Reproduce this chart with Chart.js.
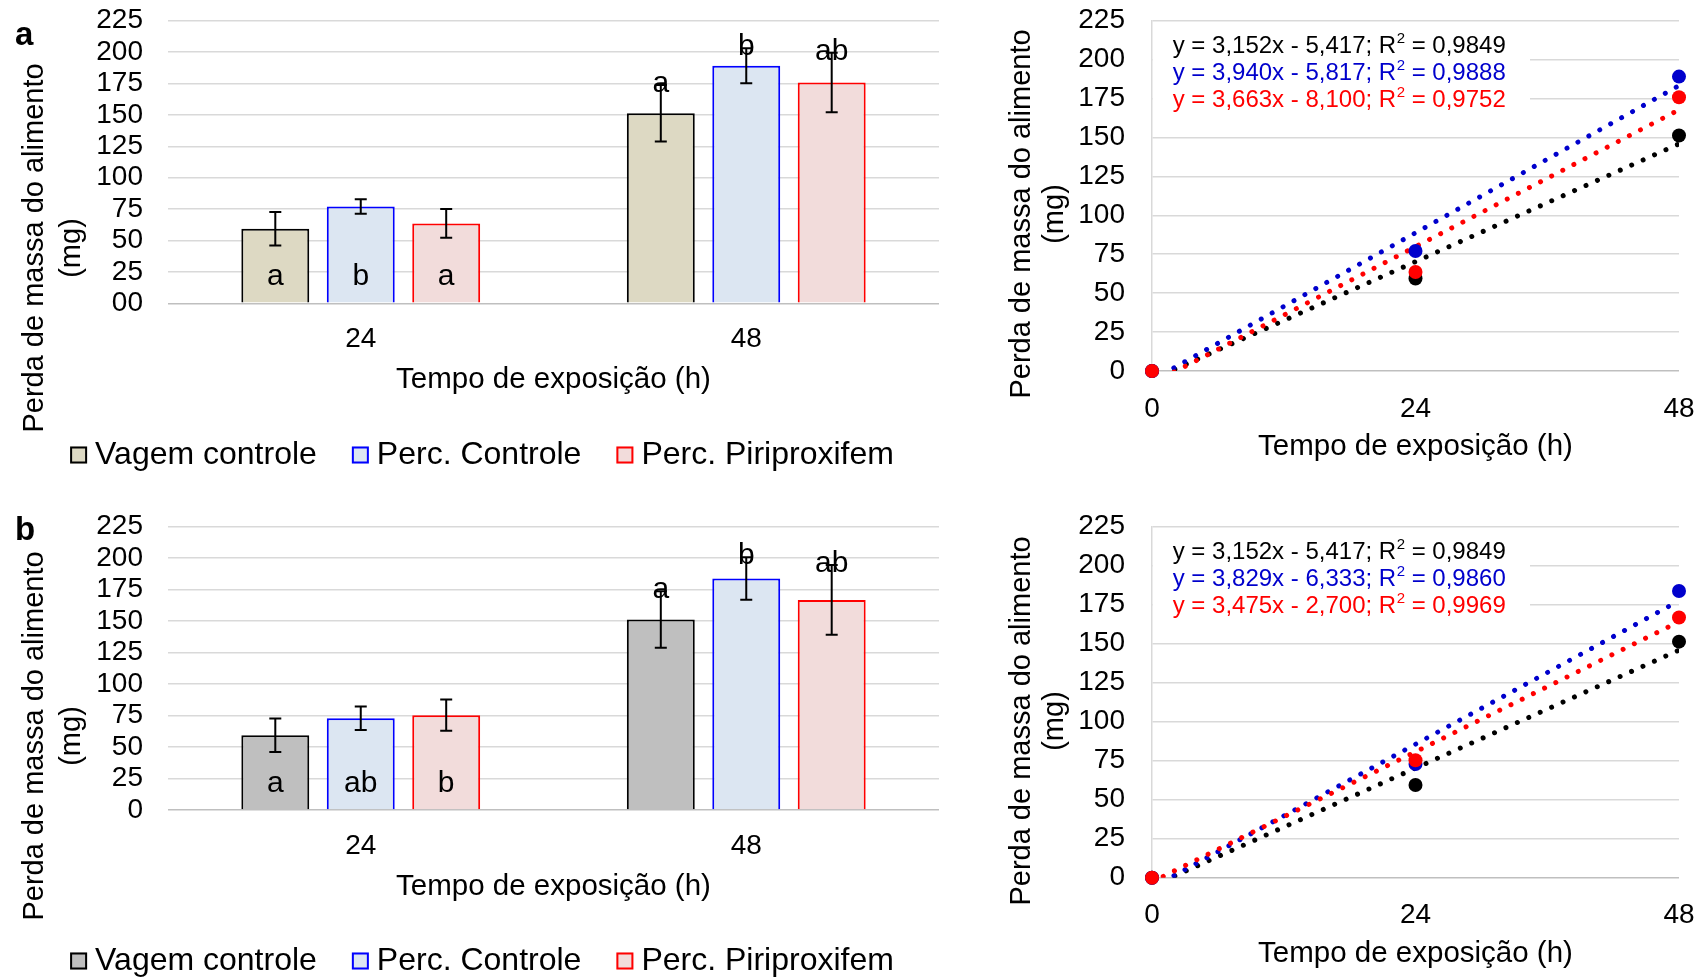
<!DOCTYPE html>
<html>
<head>
<meta charset="utf-8">
<script src="https://cdn.jsdelivr.net/npm/chart.js@4.4.1/dist/chart.umd.min.js"></script>
<style>
  html, body { margin: 0; padding: 0; background: #fff; width: 1704px; height: 980px; overflow: hidden; }
  .panel { position: absolute; }
</style>
</head>
<body>
<div class="panel" style="left:0px;top:0px;width:964px;height:490px"><canvas id="barA"></canvas></div>
<div class="panel" style="left:990px;top:0px;width:714px;height:480px"><canvas id="scatA"></canvas></div>
<div class="panel" style="left:0px;top:506px;width:964px;height:474px"><canvas id="barB"></canvas></div>
<div class="panel" style="left:990px;top:506px;width:714px;height:480px"><canvas id="scatB"></canvas></div>
<script>
// ---------------- DATA ----------------
const categories = ['24', '48'];
const seriesNames = ['Vagem controle', 'Perc. Controle', 'Perc. Piriproxifem'];
const letterPlacement = ['inside', 'above'];

// Panel a (bars: mean mass loss, mg)
const vagemA = [59.4, 151.3];
const percControleA = [77.1, 189.1];
const percPiriA = [63.6, 175.8];
const vagemErrA = [13.3, 22.5];
const percControleErrA = [5.8, 13.9];
const percPiriErrA = [11.5, 23.6];
const vagemLettersA = ['a', 'a'];
const percControleLettersA = ['b', 'b'];
const percPiriLettersA = ['a', 'ab'];

// Panel b
const vagemB = [59.4, 151.3];
const percControleB = [72.9, 183.8];
const percPiriB = [75.3, 166.8];
const vagemErrB = [13.3, 22.5];
const percControleErrB = [9.3, 16.9];
const percPiriErrB = [12.4, 27.7];
const vagemLettersB = ['a', 'a'];
const percControleLettersB = ['ab', 'b'];
const percPiriLettersB = ['b', 'ab'];

// Tick labels
const yTickLabelsA = ['00', '25', '50', '75', '100', '125', '150', '175', '200', '225'];
const yTickLabelsB = ['0', '25', '50', '75', '100', '125', '150', '175', '200', '225'];
const yTickLabelsScatter = ['0', '25', '50', '75', '100', '125', '150', '175', '200', '225'];
const xTickLabelsScatter = ['0', '24', '48'];

// Scatter (regression) panels
const hours = [0, 24, 48];
const vagemPtsA = [0, 59.4, 151.3];
const percControlePtsA = [0, 77.1, 189.1];
const percPiriPtsA = [0, 63.6, 175.8];
const vagemPtsB = [0, 59.4, 151.3];
const percControlePtsB = [0, 72.9, 183.8];
const percPiriPtsB = [0, 75.3, 166.8];

// Trend line end values at x = 0 and x = 48 (from the printed equations)
const trendX = [0, 48];
const vagemTrendA = [-5.417, 145.879];
const percControleTrendA = [-5.817, 183.303];
const percPiriTrendA = [-8.100, 167.724];
const vagemTrendB = [-5.417, 145.879];
const percControleTrendB = [-6.333, 177.459];
const percPiriTrendB = [-2.700, 164.100];

const equationsA = ['y = 3,152x - 5,417; R² = 0,9849', 'y = 3,940x - 5,817; R² = 0,9888', 'y = 3,663x - 8,100; R² = 0,9752'];
const equationsB = ['y = 3,152x - 5,417; R² = 0,9849', 'y = 3,829x - 6,333; R² = 0,9860', 'y = 3,475x - 2,700; R² = 0,9969'];

const yTitleLines = ['Perda de massa do alimento', '(mg)'];
const xTitle = 'Tempo de exposição (h)';

// ---------------- STYLE ----------------
const FONT = '"Liberation Sans", Arial, Helvetica, sans-serif';
Chart.defaults.font.family = FONT;
Chart.defaults.color = '#000';

const BLACK = '#000000', BLUE = '#0000ff', RED = '#ff0000', SBLUE = '#0000cc';
const gridColor = (c) => (c.tick && c.tick.value === 0) ? '#bfbfbf' : '#d9d9d9';

// ---------------- PLUGINS ----------------
const errorLetterPlugin = {
  id: 'errorLetters',
  afterDatasetsDraw(chart) {
    const ctx = chart.ctx, ys = chart.scales.y;
    chart.data.datasets.forEach((ds, i) => {
      const meta = chart.getDatasetMeta(i);
      meta.data.forEach((bar, j) => {
        const v = ds.data[j], e = ds.errors[j];
        const yt = ys.getPixelForValue(v + e), yb = ys.getPixelForValue(v - e);
        ctx.save();
        ctx.strokeStyle = '#000';
        ctx.lineWidth = 2;
        ctx.beginPath();
        ctx.moveTo(bar.x, yt); ctx.lineTo(bar.x, yb);
        ctx.moveTo(bar.x - 6, yt); ctx.lineTo(bar.x + 6, yt);
        ctx.moveTo(bar.x - 6, yb); ctx.lineTo(bar.x + 6, yb);
        ctx.stroke();
        ctx.fillStyle = '#000';
        ctx.font = '30px ' + FONT;
        ctx.textAlign = 'center';
        ctx.textBaseline = 'alphabetic';
        const ty = letterPlacement[j] === 'inside' ? ys.getPixelForValue(0) - 18 : yt + 7;
        ctx.fillText(ds.letters[j], bar.x, ty);
        ctx.restore();
      });
    });
  }
};

const yTitlePlugin = {
  id: 'yTitle',
  afterDraw(chart, args, o) {
    const ctx = chart.ctx;
    ctx.save();
    ctx.font = o.size + 'px ' + FONT;
    ctx.fillStyle = '#000';
    ctx.textAlign = 'center';
    ctx.textBaseline = 'middle';
    o.lines.forEach((t, k) => {
      ctx.save();
      ctx.translate(o.x[k], o.cy);
      ctx.rotate(-Math.PI / 2);
      ctx.fillText(t, 0, 0);
      ctx.restore();
    });
    ctx.restore();
  }
};

const panelLetterPlugin = {
  id: 'panelLetter',
  afterDraw(chart, args, o) {
    if (!o.text) return;
    const ctx = chart.ctx;
    ctx.save();
    ctx.font = 'bold 33px ' + FONT;
    ctx.fillStyle = '#000';
    ctx.textAlign = 'left';
    ctx.textBaseline = 'alphabetic';
    ctx.fillText(o.text, o.x, o.y);
    ctx.restore();
  }
};

const boxLegendPlugin = {
  id: 'boxLegend',
  afterDraw(chart, args, o) {
    const ctx = chart.ctx;
    const ds = chart.data.datasets;
    ctx.save();
    ctx.font = o.size + 'px ' + FONT;
    const box = 17, gapText = 8, gapItem = 35;
    const widths = ds.map(d => ctx.measureText(d.label).width);
    let total = 0;
    widths.forEach((w, i) => { total += box + gapText + w + (i < widths.length - 1 ? gapItem : 0); });
    let x = o.cx - total / 2;
    ds.forEach((d, i) => {
      ctx.fillStyle = d.backgroundColor;
      ctx.fillRect(x, o.cy - box / 2, box, box);
      ctx.strokeStyle = d.borderColor;
      ctx.lineWidth = 2;
      ctx.strokeRect(x + 1, o.cy - box / 2 + 1, box - 2, box - 2);
      ctx.fillStyle = '#000';
      ctx.textAlign = 'left';
      ctx.textBaseline = 'middle';
      ctx.fillText(d.label, x + box + gapText, o.cy);
      x += box + gapText + widths[i] + gapItem;
    });
    ctx.restore();
  }
};

const equationPlugin = {
  id: 'equations',
  beforeDatasetsDraw(chart, args, o) {
    const ctx = chart.ctx, a = chart.chartArea;
    ctx.save();
    ctx.fillStyle = '#ffffff';
    ctx.fillRect(a.left + 1, a.top + 1.5, 377, 87);
    o.lines.forEach((line, k) => {
      const parts = line.split('²');
      const y = a.top + o.dy[k];
      let x = a.left + 20.7;
      ctx.fillStyle = o.colors[k];
      ctx.textAlign = 'left';
      ctx.textBaseline = 'middle';
      ctx.font = '24px ' + FONT;
      ctx.fillText(parts[0], x, y);
      x += ctx.measureText(parts[0]).width;
      ctx.font = '15px ' + FONT;
      ctx.fillText('2', x + 0.5, y - 7);
      x += ctx.measureText('2').width + 0.5;
      ctx.font = '24px ' + FONT;
      ctx.fillText(parts[1], x, y);
    });
    ctx.restore();
  }
};

// fixed-size axes (ignore label overhang padding)
function fixY(width) {
  return function (s) { s.width = width; s.paddingTop = 0; s.paddingBottom = 0; };
}
function fixX(height) {
  return function (s) { s.height = height; s.paddingLeft = 0; s.paddingRight = 0; };
}

// ---------------- BUILDERS ----------------
function barConfig(p) {
  return {
    type: 'bar',
    data: {
      labels: categories,
      datasets: [
        { label: seriesNames[0], data: p.v[0], errors: p.e[0], letters: p.l[0], backgroundColor: p.vagemFill, borderColor: BLACK, borderWidth: 2 },
        { label: seriesNames[1], data: p.v[1], errors: p.e[1], letters: p.l[1], backgroundColor: '#dce6f2', borderColor: BLUE, borderWidth: 2 },
        { label: seriesNames[2], data: p.v[2], errors: p.e[2], letters: p.l[2], backgroundColor: '#f2dcdb', borderColor: RED, borderWidth: 2 }
      ]
    },
    options: {
      responsive: true,
      maintainAspectRatio: false,
      animation: false,
      events: [],
      layout: { padding: { top: 20.7, right: 25, bottom: p.bottomPad, left: 0 } },
      datasets: { bar: { categoryPercentage: 0.665, barPercentage: 0.795 } },
      scales: {
        x: {
          grid: { display: false },
          border: { display: false },
          ticks: { font: { size: 28 }, padding: 11, color: '#000', autoSkip: false },
          title: { display: true, text: xTitle, font: { size: 29.5 }, padding: { top: 0, bottom: 5.6 }, color: '#000' },
          afterFit: fixX(100)
        },
        y: {
          min: 0, max: 225,
          ticks: { stepSize: 25, autoSkip: false, font: { size: 28 }, padding: 25, color: '#000', callback: (v, i) => p.yTicks[i] },
          grid: { color: gridColor, lineWidth: 1.5, drawTicks: false },
          border: { display: false },
          afterFit: fixY(168)
        }
      },
      plugins: {
        legend: { display: false },
        tooltip: { enabled: false },
        yTitle: { lines: yTitleLines, x: [35, 72], cy: p.titleCy, size: 29 },
        boxLegend: { cx: 482, cy: 455, size: 32 },
        panelLetter: { text: p.letter, x: 15, y: p.letterY }
      }
    },
    plugins: [errorLetterPlugin, yTitlePlugin, boxLegendPlugin, panelLetterPlugin]
  };
}

function scatterConfig(p) {
  const pts = (vals) => hours.map((h, i) => ({ x: h, y: vals[i] }));
  const tr = (vals) => trendX.map((x, i) => ({ x: x, y: vals[i] }));
  const trendStyle = { type: 'line', borderWidth: 5, borderDash: [0.01, 12.5], borderCapStyle: 'round', pointRadius: 0, fill: false, tension: 0, clip: 0 };
  return {
    type: 'scatter',
    data: {
      datasets: [
        { label: seriesNames[2], data: pts(p.v[2]), backgroundColor: RED, borderWidth: 0, pointRadius: 7, order: 1, clip: false },
        { label: seriesNames[1], data: pts(p.v[1]), backgroundColor: SBLUE, borderWidth: 0, pointRadius: 7, order: 2, clip: false },
        { label: seriesNames[0], data: pts(p.v[0]), backgroundColor: BLACK, borderWidth: 0, pointRadius: 7, order: 3, clip: false },
        Object.assign({ label: 'Tendência ' + seriesNames[2], data: tr(p.t[2]), borderColor: RED, order: 4 }, trendStyle),
        Object.assign({ label: 'Tendência ' + seriesNames[1], data: tr(p.t[1]), borderColor: SBLUE, order: 5 }, trendStyle),
        Object.assign({ label: 'Tendência ' + seriesNames[0], data: tr(p.t[0]), borderColor: BLACK, order: 6 }, trendStyle)
      ]
    },
    options: {
      responsive: true,
      maintainAspectRatio: false,
      animation: false,
      events: [],
      layout: { padding: { top: 20.7, right: 25, bottom: p.bottomPad, left: 0 } },
      scales: {
        x: {
          type: 'linear', min: 0, max: 48,
          grid: { display: false },
          border: { display: false },
          ticks: { stepSize: 24, autoSkip: false, font: { size: 28 }, padding: 13, color: '#000', callback: (v, i) => xTickLabelsScatter[i] },
          title: { display: true, text: xTitle, font: { size: 29.5 }, padding: { top: 0, bottom: 11.6 }, color: '#000' },
          afterFit: fixX(105)
        },
        y: {
          type: 'linear', min: 0, max: 225,
          ticks: { stepSize: 25, autoSkip: false, font: { size: 28 }, padding: 27, color: '#000', callback: (v, i) => yTickLabelsScatter[i] },
          grid: { color: gridColor, lineWidth: 1.5, drawTicks: false },
          border: { display: true, color: '#d9d9d9', width: 1.5 },
          afterFit: fixY(162)
        }
      },
      plugins: {
        legend: { display: false },
        tooltip: { enabled: false },
        yTitle: { lines: yTitleLines, x: [32, 65], cy: p.titleCy, size: 29 },
        equations: { lines: p.eq, colors: [BLACK, SBLUE, RED], dy: [25.3, 52.3, 79.2] }
      }
    },
    plugins: [equationPlugin, yTitlePlugin]
  };
}

// ---------------- CHARTS ----------------
new Chart(document.getElementById('barA'), barConfig({
  v: [vagemA, percControleA, percPiriA],
  e: [vagemErrA, percControleErrA, percPiriErrA],
  l: [vagemLettersA, percControleLettersA, percPiriLettersA],
  vagemFill: '#ddd9c3', yTicks: yTickLabelsA, titleCy: 248, letter: 'a', letterY: 45, bottomPad: 86.7
}));

new Chart(document.getElementById('barB'), barConfig({
  v: [vagemB, percControleB, percPiriB],
  e: [vagemErrB, percControleErrB, percPiriErrB],
  l: [vagemLettersB, percControleLettersB, percPiriLettersB],
  vagemFill: '#bfbfbf', yTicks: yTickLabelsB, titleCy: 230, letter: 'b', letterY: 34, bottomPad: 70
}));

new Chart(document.getElementById('scatA'), scatterConfig({
  v: [vagemPtsA, percControlePtsA, percPiriPtsA],
  t: [vagemTrendA, percControleTrendA, percPiriTrendA],
  eq: equationsA, titleCy: 214, bottomPad: 4
}));

new Chart(document.getElementById('scatB'), scatterConfig({
  v: [vagemPtsB, percControlePtsB, percPiriPtsB],
  t: [vagemTrendB, percControleTrendB, percPiriTrendB],
  eq: equationsB, titleCy: 215, bottomPad: 3.3
}));
</script>
</body>
</html>
